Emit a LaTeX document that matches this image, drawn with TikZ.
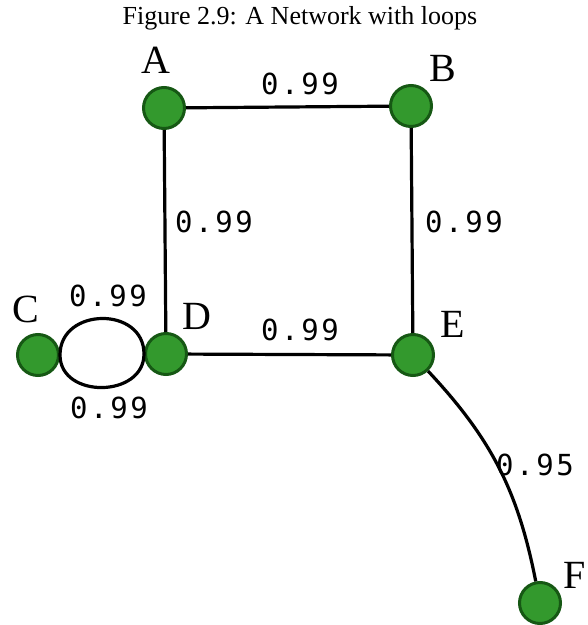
\documentclass[tikz,border=0pt]{standalone}
\usepackage{fontspec}
\setmainfont{Liberation Serif}
\newfontfamily\weightfont{DejaVu Sans Mono}[LetterSpace=9]
\usepackage{xcolor}
\usepackage{tikz}

\begin{document}
\begin{tikzpicture}[x=1pt,y=1pt,
        vertex/.style={circle, draw=vertexedge, fill=vertexfill, line width=3pt, minimum size=41pt, inner sep=0pt},
        vname/.style={anchor=base, font=\fontsize{40}{44}\selectfont},
        weight/.style={anchor=base, font=\weightfont\fontsize{29}{32}\selectfont},
        link/.style={line width=3.2pt}]
        % Define colors
        \definecolor{vertexfill}{RGB}{51,153,45}
        \definecolor{vertexedge}{RGB}{22,88,20}

        % Fix the page size
        \useasboundingbox (0,0) rectangle (588,625);

        % Caption
        \node[anchor=base, font=\fontsize{26}{30}\selectfont] (caption) at (300,600) {Figure 2.9: A Network with loops};

        % Draw vertices
        \node[vertex] (A) at (164,517) {};
        \node[vertex] (B) at (411,519) {};
        \node[vertex] (C) at (38,270) {};
        \node[vertex] (D) at (166,271) {};
        \node[vertex] (E) at (413,270) {};
        \node[vertex] (F) at (540,22) {};

        % Vertex names
        \node[vname] (nameA) at (156,551.7) {A};
        \node[vname] (nameB) at (443,543.3) {B};
        \node[vname] (nameC) at (26,302.3) {C};
        \node[vname] (nameD) at (197,295) {D};
        \node[vname] (nameE) at (453,287) {E};
        \node[vname] (nameF) at (575,37) {F};

        % Draw links
        \draw[link] (A) -- (B);
        \draw[link] (A) -- (D);
        \draw[link] (B) -- (E);
        \draw[link] (D) -- (E);
        \draw[link] (C.east) to[out=90, in=90, looseness=1.46] (D.west);
        \draw[link] (C.east) to[out=-90, in=-90, looseness=1.34] (D.west);
        \draw[link] (E) to[bend left=16] (F);

        % Link weights
        \node[weight] (wAB) at (300,530.7) {0.99};
        \node[weight] (wAD) at (214,392.3) {0.99};
        \node[weight] (wBE) at (464,392.3) {0.99};
        \node[weight] (wDE) at (300,284) {0.99};
        \node[weight] (wCD1) at (108,318.3) {0.99};
        \node[weight] (wCD2) at (109,206) {0.99};
        \node[weight] (wEF) at (535,149) {0.95};

    \end{tikzpicture}
\end{document}
